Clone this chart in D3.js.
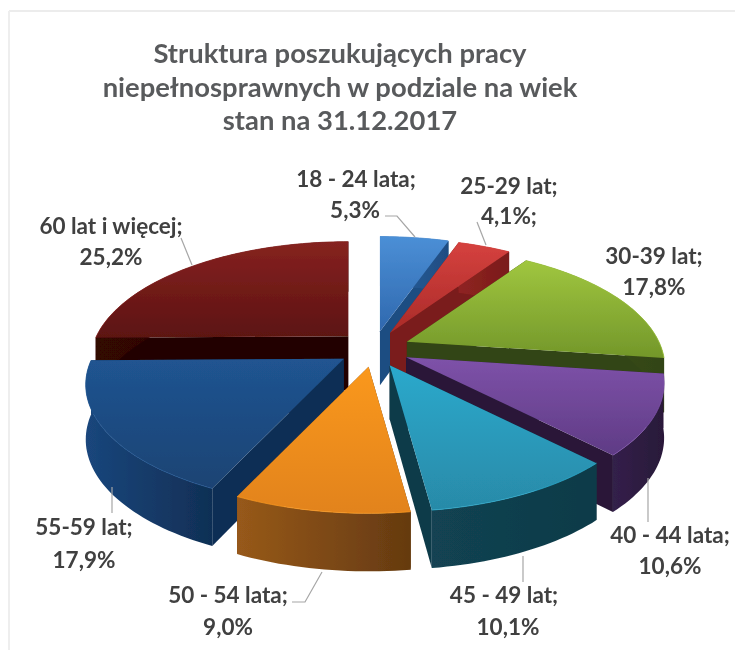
<!DOCTYPE html>
<html>
<head>
<meta charset="utf-8">
<script src="https://cdn.jsdelivr.net/npm/d3@7"></script>
<style>
body { margin: 0; background: #fff; }
text { font-family: Lato, "Open Sans", sans-serif; font-weight: 700; }
</style>
</head>
<body>
<script>
// chart data
var categories = ["18 - 24 lata", "25-29 lat", "30-39 lat", "40 - 44 lata", "45 - 49 lat", "50 - 54 lata", "55-59 lat", "60 lat i więcej"];
var values = [5.3, 4.1, 17.8, 10.6, 10.1, 9.0, 17.9, 25.2];
var titleLines = ["Struktura poszukujących pracy", "niepełnosprawnych w podziale na wiek", "stan na 31.12.2017"];

// slice colours: top face light/dark, wall light/dark
var topColors = [["#4b8fd6", "#2f68ae"], ["#d5413e", "#aa2b29"], ["#a0c63f", "#73972a"], ["#7e52a9", "#5f3b85"],
    ["#2ca9cc", "#288aa8"], ["#fa981f", "#e2831a"], ["#205491", "#1a4373"], ["#862220", "#5c1311"]];
var wallColors = [["#2a609f", "#1f4d82"], ["#8f2321", "#7a1c1b"], ["#3f5518", "#324412"], ["#33204a", "#291939"],
    ["#124352", "#0f3a48"], ["#97591a", "#653a10"], ["#1a467c", "#102f55"], ["#320706", "#240303"]];

// label placement, one per slice: name pos, value pos, leader line
var labelLayout = [
    {nx: 356, ny: 187, vx: 355, vy: 218, leader: [[385, 216], [397, 216], [415, 237]]},
    {nx: 509, ny: 194, vx: 509, vy: 224, leader: [[477, 222], [486, 245]]},
    {nx: 654, ny: 264, vx: 654, vy: 295, leader: []},
    {nx: 670, ny: 543, vx: 670, vy: 574, leader: [[648, 478], [648, 522]]},
    {nx: 504, ny: 603, vx: 508, vy: 635, leader: [[523, 556], [523, 582]]},
    {nx: 228, ny: 603, vx: 228, vy: 635, leader: [[292, 602], [305, 602], [322, 572]]},
    {nx: 84, ny: 535, vx: 84, vy: 568, leader: [[112, 487], [112, 513]]},
    {nx: 111, ny: 234, vx: 111, vy: 265, leader: [[181, 238], [192, 265]]}
];

var width = 735, height = 650;
var cx = 374, cy = 349;      // centre before the slices get pulled out
var rx = 252, ry = 115;      // disc radii
var persp = 0.215;           // front of the disc is drawn larger than the back
var pullX = 36, pullY = 18;  // how far each slice is pulled out
var depthBack = 50, depthFront = 58;

var svg = d3.select("body").append("svg")
    .attr("width", width)
    .attr("height", height)
    .style("display", "block");

// faint frame of the scanned picture
svg.append("line").attr("x1", 9).attr("x2", width).attr("y1", 11).attr("y2", 11)
    .attr("stroke", "#e6e6e6").attr("stroke-width", 1.5);
svg.append("line").attr("x1", 9).attr("x2", 9).attr("y1", 11).attr("y2", height)
    .attr("stroke", "#eeeeee").attr("stroke-width", 2);

var defs = svg.append("defs");
defs.append("filter").attr("id", "soft")
    .attr("x", "-5%").attr("y", "-5%").attr("width", "110%").attr("height", "110%")
    .append("feGaussianBlur").attr("stdDeviation", 0.7);
defs.append("filter").attr("id", "softText")
    .append("feGaussianBlur").attr("stdDeviation", 0.45);

function gradient(id, colors, horizontal) {
    var g = defs.append("linearGradient").attr("id", id)
        .attr("x1", 0).attr("y1", 0)
        .attr("x2", horizontal ? 1 : 0).attr("y2", horizontal ? 0 : 1);
    g.append("stop").attr("offset", "0%").attr("stop-color", colors[0]);
    g.append("stop").attr("offset", "100%").attr("stop-color", colors[1]);
}

var pie = d3.pie().sort(null).value(function(d) { return d; });
var arcs = pie(values);

var line = d3.line();

// angle is clockwise from the top; returns a screen point on the top face
function project(d, angle, r) {
    var mid = (d.startAngle + d.endAngle) / 2;
    var ax = cx + pullX * Math.sin(mid);
    var ay = cy - pullY * Math.cos(mid);
    var X = r * Math.sin(angle), Y = -r * Math.cos(angle);
    var k = 1 - persp * Y;
    return [ax + rx * X / k, ay + ry * Y / k, Y];
}

function drop(p) {
    return [p[0], p[1] + depthBack + (depthFront - depthBack) * (p[2] + 1) / 2];
}

function rim(d) {
    var n = Math.ceil((d.endAngle - d.startAngle) * 40);
    return d3.range(n + 1).map(function(i) {
        return project(d, d.startAngle + (d.endAngle - d.startAngle) * i / n, 1);
    });
}

// back to front
var drawOrder = [7, 0, 1, 2, 3, 6, 4, 5];

var pieGroup = svg.append("g").attr("filter", "url(#soft)");

drawOrder.forEach(function(i) {
    var d = arcs[i];
    var g = pieGroup.append("g");
    gradient("top" + i, topColors[i], false);
    gradient("wall" + i, wallColors[i], true);

    var apex = project(d, 0, 0);
    var pts = rim(d);
    var first = pts[0], last = pts[pts.length - 1];

    // the two cut faces
    [first, last].forEach(function(p) {
        g.append("path")
            .attr("d", line([apex, p, drop(p), drop(apex)]) + "Z")
            .attr("fill", wallColors[i][1]);
    });

    // curved outer wall
    g.append("path")
        .attr("d", line(pts.concat(pts.slice().reverse().map(drop))) + "Z")
        .attr("fill", "url(#wall" + i + ")");

    // top face
    g.append("path")
        .attr("d", line([apex].concat(pts)) + "Z")
        .attr("fill", "url(#top" + i + ")");

    // thin highlight on the rim
    g.append("path")
        .attr("d", line(pts))
        .attr("fill", "none")
        .attr("stroke", topColors[i][0])
        .attr("stroke-width", 0.8);
});

// leader lines
labelLayout.forEach(function(l) {
    if (l.leader.length) {
        svg.append("path")
            .attr("d", line(l.leader))
            .attr("fill", "none")
            .attr("stroke", "#a6a6a6")
            .attr("stroke-width", 1.2);
    }
});

var textGroup = svg.append("g").attr("filter", "url(#softText)");

textGroup.selectAll(".title")
    .data(titleLines)
    .enter().append("text")
    .attr("class", "title")
    .attr("x", 340)
    .attr("y", function(d, i) { return 63 + i * 33.5; })
    .attr("text-anchor", "middle")
    .attr("font-size", 27.4)
    .attr("fill", "#595a5c")
    .text(function(d) { return d; });

categories.forEach(function(c, i) {
    var l = labelLayout[i];
    textGroup.append("text")
        .attr("x", l.nx).attr("y", l.ny)
        .attr("text-anchor", "middle")
        .attr("font-size", 22.5)
        .attr("fill", "#404040")
        .text(c + ";");
    textGroup.append("text")
        .attr("x", l.vx).attr("y", l.vy)
        .attr("text-anchor", "middle")
        .attr("font-size", 22.5)
        .attr("fill", "#404040")
        .text(values[i].toFixed(1).replace(".", ",") + "%" + (i === 1 ? ";" : ""));
});
</script>
</body>
</html>
